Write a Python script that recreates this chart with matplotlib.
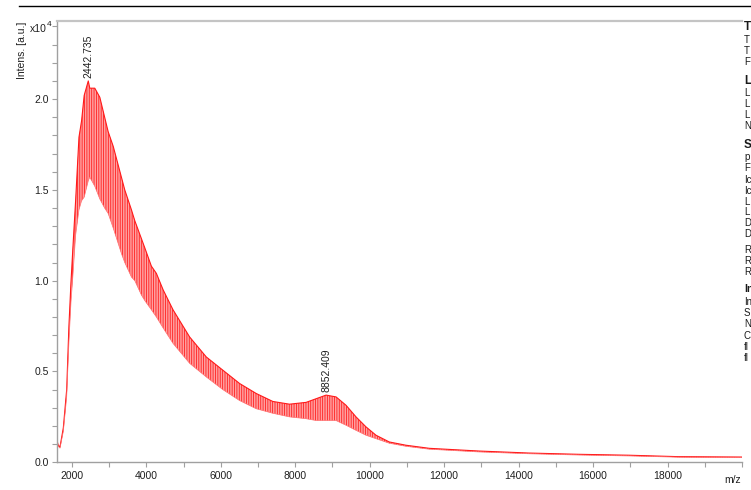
import matplotlib
matplotlib.use("Agg")
import matplotlib.pyplot as plt
from matplotlib.lines import Line2D
from matplotlib.ticker import MultipleLocator

# ---- data (intensity in units of 10^4 a.u.) ----
mz = [1600, 1633, 1680, 1770, 1860, 1920, 1975, 2035, 2100, 2190, 2260, 2330,
      2440, 2480, 2615, 2750, 2880, 2975, 3110, 3330, 3420, 3600, 3690, 3870,
      3960, 4135, 4270, 4450, 4716, 5163, 5610, 6056, 6504, 6950, 7397, 7845,
      8292, 8560, 8828, 9096, 9364, 9632, 9900, 10169, 10525, 10973, 11600,
      12938, 14279, 15619, 16960, 18300, 20000]
upper = [0.12, 0.094, 0.084, 0.19, 0.40, 0.75, 0.99, 1.21, 1.44, 1.79, 1.88, 2.02,
         2.10, 2.06, 2.06, 2.01, 1.90, 1.82, 1.74, 1.57, 1.50, 1.39, 1.33, 1.23,
         1.18, 1.08, 1.04, 0.95, 0.84, 0.69, 0.58, 0.507, 0.434, 0.379, 0.335, 0.32,
         0.33, 0.35, 0.37, 0.36, 0.314, 0.25, 0.195, 0.149, 0.112, 0.094, 0.077,
         0.062, 0.051, 0.044, 0.039, 0.031, 0.029]
lower = [0.11, 0.088, 0.078, 0.17, 0.36, 0.66, 0.88, 1.05, 1.25, 1.39, 1.44, 1.46,
         1.55, 1.57, 1.52, 1.45, 1.40, 1.37, 1.29, 1.15, 1.10, 1.02, 1.00, 0.92,
         0.89, 0.84, 0.80, 0.74, 0.655, 0.545, 0.47, 0.40, 0.34, 0.295, 0.27, 0.25,
         0.24, 0.23, 0.23, 0.23, 0.204, 0.176, 0.149, 0.13, 0.105, 0.088, 0.072,
         0.057, 0.047, 0.040, 0.035, 0.028, 0.026]
peak_mz = [2442.735, 8852.409]
peak_int = [2.10, 0.37]
peak_labels = ["2442.735", "8852.409"]

panel_lines = [
    ("T", True, 27), ("T", False, 40), ("T", False, 51), ("F", False, 62),
    ("L", True, 81), ("L", False, 93), ("L", False, 104), ("L", False, 115), ("N", False, 126),
    ("S", True, 145), ("p", False, 157), ("F", False, 168), ("Ic", False, 180), ("Ic", False, 191),
    ("L", False, 202), ("L", False, 212), ("D", False, 223), ("D", False, 234),
    ("R", False, 250), ("R", False, 261), ("R", False, 272),
    ("In", True, 289), ("In", False, 302), ("S", False, 313), ("N", False, 324),
    ("C", False, 336), ("fl", False, 347), ("fl", False, 358),
]

plt.rcParams['font.family'] = ['Liberation Sans', 'DejaVu Sans']
plt.rcParams['hatch.linewidth'] = 0.6

W, H = 751, 490
fig = plt.figure(figsize=(W / 100, H / 100), dpi=100)
ax = fig.add_axes([57 / W, 1 - 462.3 / H, (742 - 57) / W, (462.3 - 21) / H])

ax.fill_between(mz, lower, upper, facecolor='#ffa0a0', edgecolor='#ff2020',
                hatch='|' * 7, linewidth=0)
ax.plot(mz, upper, color='#ff1a1a', lw=0.8)
ax.plot(mz, lower, color='#ff7070', lw=0.5)

for x, y, lab in zip(peak_mz, peak_int, peak_labels):
    ax.annotate(lab, (x, y), xytext=(0, 2), textcoords='offset points',
                rotation=90, ha='center', va='bottom', fontsize=7.5, color='#202020')

ax.set_xlim(1600, 20000)
ax.set_ylim(0, 2.43)
ax.xaxis.set_major_locator(MultipleLocator(2000))
ax.xaxis.set_minor_locator(MultipleLocator(1000))
ax.yaxis.set_major_locator(MultipleLocator(0.5))
ax.yaxis.set_minor_locator(MultipleLocator(0.1))
ax.yaxis.set_major_formatter(matplotlib.ticker.FormatStrFormatter('%.1f'))
ax.xaxis.set_major_formatter(matplotlib.ticker.FuncFormatter(
    lambda v, p: '' if v > 19000 or v < 1700 else f'{int(v)}'))

for s in ['left', 'bottom']:
    ax.spines[s].set_color('#a0a0a0')
    ax.spines[s].set_linewidth(1.0)
ax.spines['top'].set_color('#c4c4c4')
ax.spines['top'].set_linewidth(1.6)
ax.spines['right'].set_visible(False)

ax.tick_params(which='both', direction='out', length=3.5, width=0.8, color='#a0a0a0',
               labelsize=7.5, labelcolor='#202020', pad=2.5)

fig.text(733 / W, 1 - 480 / H, 'm/z', ha='center', va='center', fontsize=7.5, color='#202020')
fig.text(22 / W, 1 - 22 / H, 'Intens. [a.u.]', rotation=90, ha='center', va='top',
         fontsize=7.5, color='#202020')
fig.text(30 / W, 1 - 29 / H, 'x10', ha='left', va='center', fontsize=7.5, color='#202020')
fig.text(46.5 / W, 1 - 25 / H, '4', ha='left', va='center', fontsize=6, color='#202020')

fig.add_artist(Line2D([19 / W, 1.0], [1 - 6 / H, 1 - 6 / H], color='black', lw=1.0,
                      transform=fig.transFigure))

for txt, bold, py in panel_lines:
    fig.text(744 / W, 1 - py / H, txt, ha='left', va='center',
             fontsize=(7.5 if len(txt) > 1 else 8.5) if bold else 7,
             fontweight='bold' if bold else 'normal', color='#1a1a1a')

fig.savefig('out.png', dpi=100)
